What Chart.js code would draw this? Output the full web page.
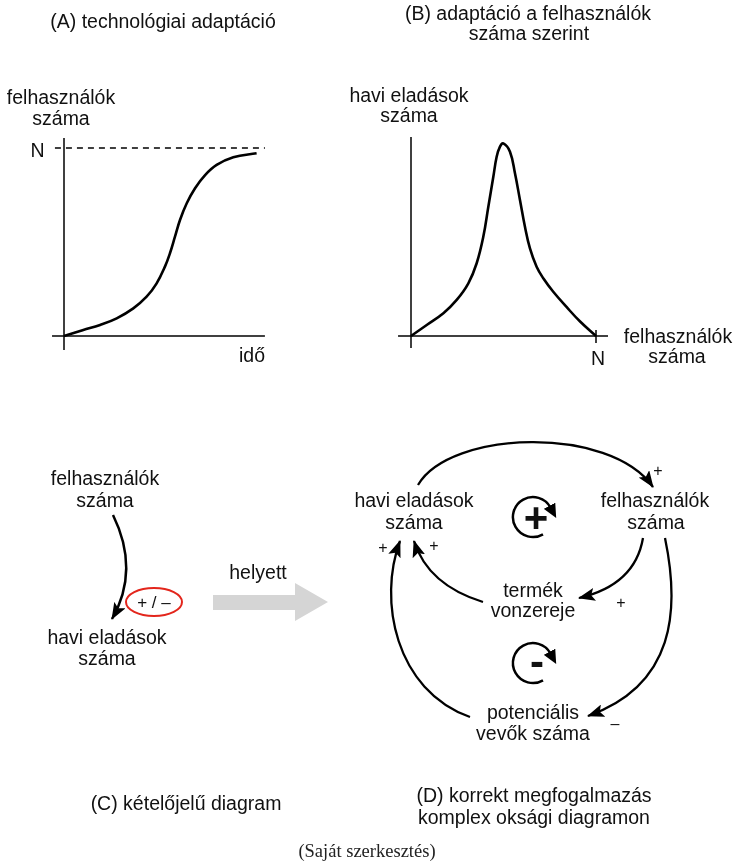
<!DOCTYPE html>
<html>
<head>
<meta charset="utf-8">
<script src="https://cdn.jsdelivr.net/npm/chart.js@4/dist/chart.umd.min.js"></script>
<style>
  body { margin: 0; background: #fff; }
  #page { position: relative; width: 734px; height: 864px; overflow: hidden; }
  canvas { position: absolute; }
  svg { position: absolute; left: 0; top: 0; }
  .t { font-family: "Liberation Sans", Arial, sans-serif; font-size: 19.5px; fill: #111; text-anchor: middle; }
  .s { font-family: "Liberation Sans", Arial, sans-serif; font-size: 16px; fill: #111; text-anchor: middle; }
  .arr { fill: none; stroke: #000; stroke-width: 2.3; }
</style>
</head>
<body>
<div id="page">
  <canvas id="chartA" width="240" height="230" style="left:40px;top:130px;width:240px;height:230px"></canvas>
  <canvas id="chartB" width="240" height="230" style="left:380px;top:130px;width:240px;height:230px"></canvas>

  <svg width="734" height="864">
    <defs>
      <marker id="ah" markerUnits="userSpaceOnUse" viewBox="0 0 17 13" markerWidth="17" markerHeight="13" refX="16" refY="6.5" orient="auto">
        <path d="M0,0 L17,6.5 L0,13 L3.5,6.5 Z" fill="#000"/>
      </marker>
      <marker id="loopHead" markerUnits="userSpaceOnUse" viewBox="0 0 14 13" markerWidth="14" markerHeight="13" refX="2" refY="6.5" orient="auto">
        <path d="M0,0 L14,6.5 L0,13 Z" fill="#000"/>
      </marker>
    </defs>

    <!-- (A) -->
    <text class="t" x="163" y="28">(A) technológiai adaptáció</text>
    <text class="t" x="61" y="104">felhasználók</text>
    <text class="t" x="61" y="125">száma</text>
    <text class="t" x="37.5" y="157">N</text>
    <text class="t" x="252" y="362">idő</text>

    <!-- (B) -->
    <text class="t" x="528" y="20">(B) adaptáció a felhasználók</text>
    <text class="t" x="529" y="40">száma szerint</text>
    <text class="t" x="409" y="102">havi eladások</text>
    <text class="t" x="409" y="122">száma</text>
    <text class="t" x="678" y="343">felhasználók</text>
    <text class="t" x="677" y="363">száma</text>
    <text class="t" x="598" y="365">N</text>

    <!-- (C) -->
    <text class="t" x="105" y="485">felhasználók</text>
    <text class="t" x="105" y="507">száma</text>
    <path class="arr" d="M113,515 Q140,570 112,619" style="stroke-width:2.5" marker-end="url(#ah)"/>
    <ellipse cx="154" cy="602" rx="28" ry="14" fill="none" stroke="#e3261c" stroke-width="2"/>
    <text class="s" x="154" y="608" style="font-size:17px">+ / –</text>
    <text class="t" x="107" y="644">havi eladások</text>
    <text class="t" x="107" y="665">száma</text>
    <text class="t" x="258" y="579">helyett</text>
    <polygon points="213,595 295,595 295,583 328,602 295,621 295,610 213,610" fill="#d5d5d5"/>

    <!-- (D) -->
    <text class="t" x="414" y="507">havi eladások</text>
    <text class="t" x="414" y="529">száma</text>
    <text class="t" x="655" y="507">felhasználók</text>
    <text class="t" x="656" y="529">száma</text>
    <text class="t" x="533" y="597">termék</text>
    <text class="t" x="533" y="617">vonzereje</text>
    <text class="t" x="533" y="719">potenciális</text>
    <text class="t" x="533" y="740">vevők száma</text>

    <path class="arr" d="M418,485 C450,430 610,425 653,487" marker-end="url(#ah)"/>
    <path class="arr" d="M643,538 Q635,585 579,598" marker-end="url(#ah)"/>
    <path class="arr" d="M483,602 Q428,585 414,541" marker-end="url(#ah)"/>
    <path class="arr" d="M665,538 C680,610 675,685 588,716" marker-end="url(#ah)"/>
    <path class="arr" d="M470,717 C395,690 378,600 400,541" marker-end="url(#ah)"/>

    <text class="s" x="658" y="476">+</text>
    <text class="s" x="383" y="553">+</text>
    <text class="s" x="434" y="551">+</text>
    <text class="s" x="621" y="608">+</text>
    <text class="s" x="615" y="729">–</text>

    <path class="arr" d="M543,534.3 A20,20 0 1 1 550.5,507.5" style="stroke-width:2.5" marker-end="url(#loopHead)"/>
    <text class="t" x="536" y="532" style="font-size:42px;font-weight:bold">+</text>
    <path class="arr" d="M543,680.3 A20,20 0 1 1 550.5,653.5" style="stroke-width:2.5" marker-end="url(#loopHead)"/>
    <text class="t" x="537" y="676" style="font-size:42px;font-weight:bold">-</text>

    <!-- captions -->
    <text class="t" x="186" y="810">(C) kételőjelű diagram</text>
    <text class="t" x="534" y="802">(D) korrekt megfogalmazás</text>
    <text class="t" x="534" y="824">komplex oksági diagramon</text>
    <text x="367" y="857" text-anchor="middle" style="font-family:'Liberation Serif','Times New Roman',serif;font-size:18.5px;fill:#222">(Saját szerkesztés)</text>
  </svg>
</div>

<script>
// (A) technology adoption: users over time, N = 100
const timeA  = [0, 1.0, 1.87, 2.73, 3.59, 4.28, 4.80, 5.23, 5.49, 5.75, 6.01, 6.36, 6.79, 7.31, 7.91, 8.77, 9.98];
const usersA = [0, 3.2, 5.9, 9.4, 14.7, 20.9, 28.0, 36.9, 44.0, 52.8, 61.7, 70.6, 78.6, 85.6, 91.0, 95.1, 97.2];
const saturationN = 100;

// (B) monthly sales as a function of number of users (0..N)
const usersB = [0, 8.5, 17.5, 24.7, 31.0, 35.5, 39.1, 41.8, 44.5, 46.3, 48.1, 49.9,
                53.5, 56.2, 58.9, 61.6, 64.3, 67.9, 71.5, 76.9, 84.2, 91.4, 100];
const salesB = [0, 5.7, 11.8, 18.7, 27.3, 37.7, 51.5, 67.0, 82.5, 92.9, 98.1, 99.8,
                95.5, 84.3, 70.5, 56.6, 45.4, 35.9, 29.9, 22.9, 14.9, 7.5, 0];

const toPoints = (xs, ys) => xs.map((x, i) => ({ x: x, y: ys[i] }));

// scale range such that value v0 sits at pixel p0 and v1 at p1 (pixels from the left / bottom)
function rangeFor(v0, p0, v1, p1, size) {
    const k = (p1 - p0) / (v1 - v0);
    const min = v0 - p0 / k;
    return { min: min, max: min + size / k };
}

function line(data, width, extra) {
    return Object.assign({
        data: data,
        borderColor: '#000',
        borderWidth: width,
        pointRadius: 0,
        fill: false,
        tension: 0,
        clip: false
    }, extra || {});
}

function options(xr, yr) {
    return {
        responsive: false,
        animation: false,
        devicePixelRatio: 1,
        events: [],
        layout: { padding: 0 },
        plugins: { legend: { display: false }, tooltip: { enabled: false } },
        scales: {
            x: { type: 'linear', display: false, min: xr.min, max: xr.max },
            y: { type: 'linear', display: false, min: yr.min, max: yr.max }
        }
    };
}

// chart A
const xA = rangeFor(0, 24, 10, 217, 240);
const yA = rangeFor(0, 24, saturationN, 212, 230);
new Chart(document.getElementById('chartA'), {
    type: 'line',
    data: {
        datasets: [
            line(toPoints(timeA, usersA), 2.6, { tension: 0.4 }),
            line([{ x: -0.62, y: 0 }, { x: 10.41, y: 0 }], 1.5),
            line([{ x: 0, y: -7.4 }, { x: 0, y: 105.3 }], 1.5),
            line([{ x: -0.47, y: saturationN }, { x: 10.41, y: saturationN }], 1.3, { borderDash: [6, 5] })
        ]
    },
    options: options(xA, yA)
});

// chart B
const xB = rangeFor(0, 31, 100, 216, 240);
const yB = rangeFor(0, 24, 100, 217, 230);
new Chart(document.getElementById('chartB'), {
    type: 'line',
    data: {
        datasets: [
            line(toPoints(usersB, salesB), 2.6, { tension: 0.4 }),
            line([{ x: -7.0, y: 0 }, { x: 106.5, y: 0 }], 1.5),
            line([{ x: 0, y: -6.2 }, { x: 0, y: 103.1 }], 1.5),
            line([{ x: 100, y: -3.6 }, { x: 100, y: 3.1 }], 1.5)
        ]
    },
    options: options(xB, yB)
});
</script>
</body>
</html>
